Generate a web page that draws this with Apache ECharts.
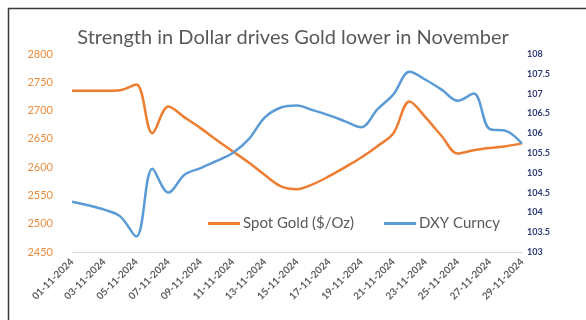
<!DOCTYPE html>
<html>
<head>
<meta charset="utf-8">
<script src="https://cdn.jsdelivr.net/npm/echarts@6/dist/echarts.min.js"></script>
<style>
  html, body { margin: 0; padding: 0; background: #ffffff; }
  #chart { width: 586px; height: 320px; }
</style>
</head>
<body>
<div id="chart"></div>
<script>
// Daily closes, November 2024
var dates = [
  '01-11-2024','02-11-2024','03-11-2024','04-11-2024','05-11-2024','06-11-2024','07-11-2024',
  '08-11-2024','09-11-2024','10-11-2024','11-11-2024','12-11-2024','13-11-2024','14-11-2024',
  '15-11-2024','16-11-2024','17-11-2024','18-11-2024','19-11-2024','20-11-2024','21-11-2024',
  '22-11-2024','23-11-2024','24-11-2024','25-11-2024','26-11-2024','27-11-2024','28-11-2024',
  '29-11-2024'
];
var spotGold = [
  2735, 2735, 2735, 2736, 2746, 2660, 2707,
  2688, 2669, 2648, 2628, 2608, 2586, 2566,
  2561, 2570, 2584, 2600, 2617, 2637, 2660,
  2716, 2688, 2655, 2624, 2630, 2634, 2637,
  2642
];
var dxy = [
  104.27, 104.18, 104.07, 103.9, 103.39, 105.1, 104.5,
  104.95, 105.12, 105.3, 105.5, 105.85, 106.4, 106.65,
  106.7, 106.58, 106.45, 106.3, 106.15, 106.6, 106.98,
  107.55, 107.35, 107.1, 106.82, 107.0, 106.1, 106.06,
  105.74
];
var goldTicks = { min: 2450, max: 2800, step: 50 };
var dxyTicks = { min: 103, max: 108, step: 0.5 };

var chart = echarts.init(document.getElementById('chart'), null, { renderer: 'canvas' });
var font = 'Lato, "Open Sans", sans-serif';

chart.setOption({
  animation: false,
  backgroundColor: '#ffffff',
  title: {
    text: 'Strength in Dollar drives Gold lower in November',
    left: 'center',
    top: 23,
    textStyle: { fontFamily: font, fontSize: 20, fontWeight: 'normal', color: '#595959' }
  },
  graphic: [{
    type: 'rect',
    shape: { x: 8.5, y: 8.5, width: 600, height: 340 },
    style: { fill: 'none', stroke: '#3a3a3a', lineWidth: 1.5 },
    silent: true
  }],
  legend: {
    left: 203,
    top: 211,
    itemWidth: 32,
    itemHeight: 3,
    itemGap: 30,
    icon: 'rect',
    textStyle: { fontFamily: font, fontSize: 15, color: '#595959', padding: [0, 0, 0, -2] },
    data: ['Spot Gold ($/Oz)', 'DXY Curncy']
  },
  grid: { left: 72, right: 64, top: 54, bottom: 68, containLabel: false },
  xAxis: {
    type: 'category',
    data: dates,
    boundaryGap: false,
    axisLine: { lineStyle: { color: '#d9d9d9', width: 1 } },
    axisTick: { show: false },
    axisLabel: {
      interval: 1,
      rotate: 45,
      margin: 8,
      fontFamily: font,
      fontSize: 10,
      fontWeight: 'bold',
      color: '#606060'
    }
  },
  yAxis: [{
    type: 'value',
    min: goldTicks.min,
    max: goldTicks.max,
    interval: goldTicks.step,
    axisLine: { show: false },
    axisTick: { show: false },
    splitLine: { show: false },
    axisLabel: {
      margin: 19, fontFamily: font, fontSize: 11, color: '#ea8d3f',
      formatter: function (v) { return String(v); }
    }
  }, {
    type: 'value',
    min: dxyTicks.min,
    max: dxyTicks.max,
    interval: dxyTicks.step,
    axisLine: { show: false },
    axisTick: { show: false },
    splitLine: { show: false },
    axisLabel: { margin: 5, fontFamily: font, fontSize: 9, fontWeight: 'bold', color: '#2f3a78' }
  }],
  series: [{
    name: 'Spot Gold ($/Oz)',
    type: 'line',
    yAxisIndex: 0,
    data: spotGold,
    smooth: 0.35,
    showSymbol: false,
    symbol: 'none',
    lineStyle: { color: '#ED7D31', width: 2.5 },
    itemStyle: { color: '#ED7D31' }
  }, {
    name: 'DXY Curncy',
    type: 'line',
    yAxisIndex: 1,
    data: dxy,
    smooth: 0.35,
    showSymbol: false,
    symbol: 'none',
    lineStyle: { color: '#5B9BD5', width: 2.5 },
    itemStyle: { color: '#5B9BD5' }
  }]
});
</script>
</body>
</html>
